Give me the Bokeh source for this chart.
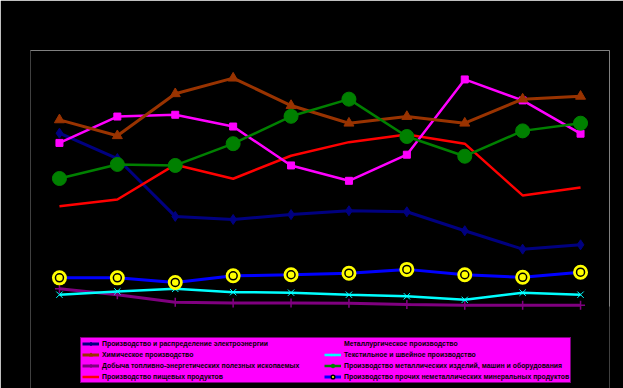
from bokeh.plotting import figure
from bokeh.models import Legend, LegendItem, LinearAxis, CategoricalAxis, Range1d, FactorRange
from bokeh.embed import file_html
from bokeh.resources import INLINE

# ---- data (y in relative units 0..100) ----
years = ["2004", "2005", "2006", "2007", "2008", "2009", "2010", "2011", "2012", "2013"]
electricity = [67.7, 57.8, 35.2, 34.0, 35.9, 37.4, 37.0, 29.6, 22.4, 24.1]
chemical = [72.9, 66.7, 83.1, 89.2, 78.5, 71.6, 74.2, 71.6, 81.0, 82.1]
fuel_mining = [6.9, 4.6, 1.7, 1.4, 1.4, 1.3, 0.8, 0.5, 0.5, 0.5]
food = [39.2, 41.8, 55.4, 49.9, 58.9, 64.2, 67.2, 63.6, 43.4, 46.5]
metallurgy = [63.9, 74.2, 74.9, 70.3, 55.1, 49.1, 59.3, 88.7, 80.5, 67.5]
textile = [4.6, 5.9, 6.9, 5.6, 5.4, 4.6, 4.0, 2.6, 5.4, 4.6]
metal_products = [50.0, 55.5, 55.1, 63.6, 74.3, 81.0, 66.4, 58.7, 68.6, 71.6]
nonmetal = [11.2, 11.2, 9.4, 12.0, 12.4, 13.0, 14.5, 12.4, 11.4, 13.4]

labels = [
    "Производство и распределение электроэнергии",
    "Химическое производство",
    "Добыча топливно-энергетических полезных ископаемых",
    "Производство пищевых продуктов",
    "Металлургическое производство",
    "Текстильное и швейное производство",
    "Производство металлических изделий, машин и оборудования",
    "Производство прочих неметаллических минеральных продуктов",
]

Y_MIN, Y_MAX = 0, 100
# frame extends below the value axis to hold the legend: 82px below the 256px value area
y_start = Y_MIN - (Y_MAX - Y_MIN) * 82 / 256

p = figure(width=623, height=388,
           x_range=FactorRange(factors=years, range_padding=0),
           y_range=Range1d(y_start, Y_MAX),
           output_backend="svg", toolbar_location=None,
           background_fill_color="black", border_fill_color="black",
           min_border_left=30, min_border_right=14, min_border_top=50, min_border_bottom=0)
p.xaxis.visible = False
p.yaxis.visible = False
p.grid.visible = False
p.outline_line_color = None

top_ax = CategoricalAxis(axis_line_color="#808080", axis_line_width=1,
                         major_tick_line_color=None, minor_tick_line_color=None,
                         major_label_text_font_size="0px", major_label_text_color=None)
p.add_layout(top_ax, "above")
right_ax = LinearAxis(axis_line_color="#808080", axis_line_width=1, bounds=(Y_MIN, Y_MAX),
                      major_tick_line_color=None, minor_tick_line_color=None,
                      major_label_text_font_size="0px", major_label_text_color=None)
p.add_layout(right_ax, "right")

# draw series
r_fuel_l = p.line(years, fuel_mining, line_color="#800080", line_width=3)
r_fuel_s = p.scatter(years, fuel_mining, marker="cross", size=9, line_color="#800080", line_width=1.5)

r_tex_l = p.line(years, textile, line_color="#00FFFF", line_width=2.5)
r_tex_s = p.scatter(years, textile, marker="x", size=9, line_color="#00FFFF", line_width=1)

r_non_l = p.line(years, nonmetal, line_color="#0000FF", line_width=3)
r_non_s1 = p.scatter(years, nonmetal, marker="circle", size=15, fill_color="#FFFF00", line_color=None)
r_non_s2 = p.scatter(years, nonmetal, marker="circle", size=8, fill_color="#FFFF00", line_color="black", line_width=1.5)

r_el_l = p.line(years, electricity, line_color="#000080", line_width=3)
r_el_s = p.scatter(years, electricity, marker="diamond", size=10, fill_color="#000080", line_color="#000080")

r_food_l = p.line(years, food, line_color="#FF0000", line_width=2.5)

r_met_l = p.line(years, metallurgy, line_color="#FF00FF", line_width=2.5)
r_met_s = p.scatter(years, metallurgy, marker="square", size=7, fill_color="#FF00FF", line_color="#FF00FF")

r_chem_l = p.line(years, chemical, line_color="#993300", line_width=3)
r_chem_s = p.scatter(years, chemical, marker="triangle", size=10, fill_color="#993300", line_color="#993300")

r_mp_l = p.line(years, metal_products, line_color="#008000", line_width=2.5)
r_mp_s = p.scatter(years, metal_products, marker="circle", size=14, fill_color="#008000", line_color="#008000")

items = [
    LegendItem(label=labels[0], renderers=[r_el_l, r_el_s]),
    LegendItem(label=labels[1], renderers=[r_chem_l, r_chem_s]),
    LegendItem(label=labels[2], renderers=[r_fuel_l, r_fuel_s]),
    LegendItem(label=labels[3], renderers=[r_food_l]),
    LegendItem(label=labels[4], renderers=[r_met_l, r_met_s]),
    LegendItem(label=labels[5], renderers=[r_tex_l, r_tex_s]),
    LegendItem(label=labels[6], renderers=[r_mp_l, r_mp_s]),
    LegendItem(label=labels[7], renderers=[r_non_l, r_non_s1, r_non_s2]),
]

leg = Legend(items=items, location=(50, 5), orientation="vertical", ncols=2,
             background_fill_color="#FF00FF", background_fill_alpha=1,
             border_line_color="black", border_line_width=1,
             label_text_font="Liberation Sans", label_text_font_style="bold",
             label_text_font_size="6.9px", label_text_color="black",
             label_height=9, glyph_height=9, glyph_width=17,
             label_standoff=3, label_width=220, spacing=2, padding=1, margin=0)
p.add_layout(leg)

open("out.html", "w").write(file_html(p, INLINE))
